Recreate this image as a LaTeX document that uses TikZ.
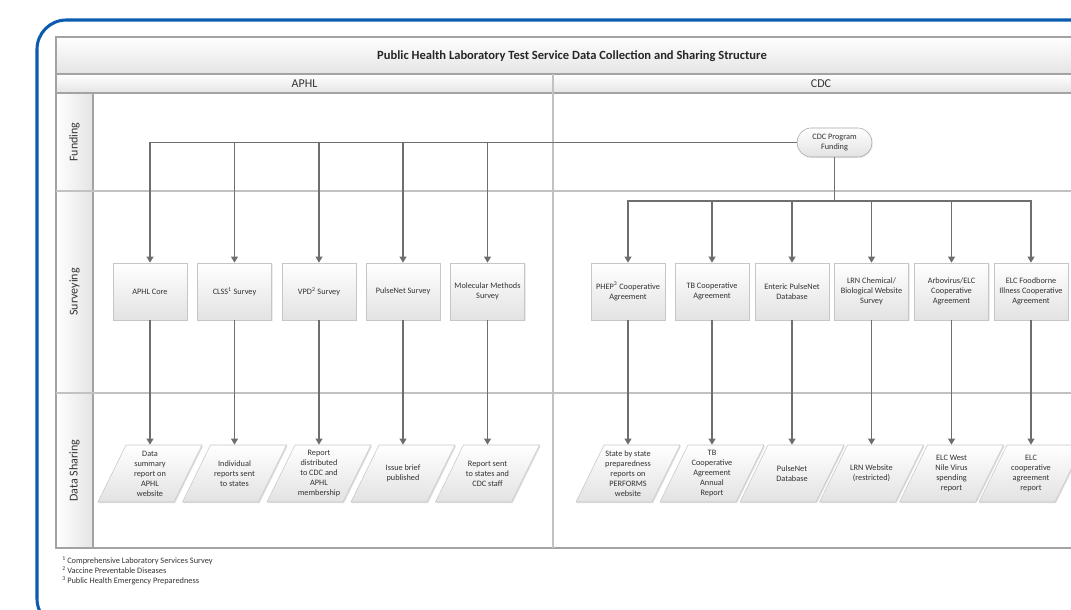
\documentclass[tikz,border=0pt]{standalone}
\usepackage{fontspec}
\setmainfont{Carlito}
\usepackage{tikz}
\usetikzlibrary{shapes.geometric, arrows.meta, positioning, calc, shadows}
\definecolor{framebl}{HTML}{0B5CB0}
\definecolor{gridgray}{HTML}{A3A3A3}
\definecolor{lanegray}{HTML}{C2C2C2}
\definecolor{linkgray}{HTML}{6E6E6E}
\definecolor{boxline}{HTML}{C6C6C6}
\definecolor{boxshade}{HTML}{E2E2E2}
\definecolor{headshade}{HTML}{E4E4E4}
\definecolor{txtgray}{HTML}{333333}

\tikzset{
  hdr/.style={font=\fontsize{9}{11}\selectfont, text=txtgray},
  boxtext/.style={inner sep=1pt, align=center, font=\fontsize{6.2}{7.5}\selectfont, text=txtgray},
  survbox/.style={boxtext, draw=boxline, top color=white, bottom color=boxshade,
    minimum width=55.5pt, minimum height=42.75pt,
    drop shadow={opacity=0.15, shadow xshift=0.8pt, shadow yshift=-0.8pt}},
  sharebox/.style={boxtext, minimum width=57pt, minimum height=42.75pt},
  sharefill/.style={draw=boxline, top color=white, bottom color=boxshade},
  shareshadow/.style={fill=black, opacity=0.13},
  fundbox/.style={boxtext, draw=gridgray, top color=white, bottom color=boxshade,
    rounded corners=10.5pt, minimum width=56pt, minimum height=21.75pt,
    drop shadow={opacity=0.15, shadow xshift=0.8pt, shadow yshift=-0.8pt}},
  link/.style={draw=linkgray, line width=1.3pt},
  arr/.style={link, -{Triangle[length=4.5pt,width=5pt]}},
}

\begin{document}
\begin{tikzpicture}[x=0.75pt, y=-0.75pt]
    \useasboundingbox (0,0) rectangle (1071,610);
    % Blue frame (runs off the page)
    \begin{scope}
      \clip (0,0) rectangle (1071,610);
      \draw[framebl, line width=2.3pt, rounded corners=22pt] (37,20) rectangle (1140,628);
    \end{scope}
    % Header rows and lane column
    \shade[top color=white, bottom color=headshade] (56,37) rectangle (1089,74);
    \shade[top color=white, bottom color=headshade] (56,74) rectangle (1089,93);
    \shade[left color=white, right color=headshade] (56,93) rectangle (93,548);
    % Grid
    \draw[gridgray, line width=0.9pt] (56,37) rectangle (1089,548);
    \draw[gridgray, line width=0.9pt] (56,74) -- (1089,74);
    \draw[gridgray, line width=0.9pt] (56,93) -- (1089,93);
    \draw[gridgray, line width=0.9pt] (93,93) -- (93,548);
    \draw[lanegray, line width=1.1pt] (56,191) -- (1089,191);
    \draw[lanegray, line width=1.1pt] (56,393) -- (1089,393);
    \draw[lanegray, line width=1.1pt] (553,74) -- (553,548);
    % Titles
    \node[font=\fontsize{9.4}{11}\selectfont\bfseries, text=black!85] (title) at (572,56)
      {Public Health Laboratory Test Service Data Collection and Sharing Structure};
    \node[hdr] (aphl) at (304.5,83.5) {APHL};
    \node[hdr] (cdc) at (821,83.5) {CDC};
    \foreach \ly/\lname/\ltext in {142/lfund/Funding, 292/lsurv/Surveying, 470.5/lshare/{Data Sharing}} {
      \node[hdr, rotate=90] (\lname) at (74.5,\ly) {\ltext};
    }
    % Funding
    \node[fundbox] (cdcfund) at (834.5,142.5) {CDC Program\\Funding};
    \coordinate (cdcsplit) at (834.5,201);
    % Surveying
    \foreach \sx/\sname/\stext in {
        150/aphlcore/{APHL Core},
        234.5/clss/{CLSS\textsuperscript{1} Survey},
        319/vpd/{VPD\textsuperscript{2} Survey},
        403/pnsurv/{PulseNet Survey},
        487.5/molmeth/{Molecular Methods\\Survey},
        628/phep/{PHEP\textsuperscript{3} Cooperative\\Agreement},
        712/tbcoop/{TB Cooperative\\Agreement},
        792/enteric/{Enteric PulseNet\\Database},
        871.5/lrnsurv/{LRN Chemical/\\Biological Website\\Survey},
        951.5/arbo/{Arbovirus/ELC\\Cooperative\\Agreement},
        1031/elcfood/{ELC Foodborne\\Illness Cooperative\\Agreement}} {
      \node[survbox] (\sname) at (\sx,291.5) {\stext};
    }
    % Data sharing (slanted boxes)
    \foreach \dx/\dname/\dtext in {
        150/dsummary/{Data\\summary\\report on\\APHL\\website},
        234.5/dindiv/{Individual\\reports sent\\to states},
        319/ddistrib/{Report\\distributed\\to CDC and\\APHL\\membership},
        403/dbrief/{Issue brief\\published},
        487.5/dsent/{Report sent\\to states and\\CDC staff},
        628/dperform/{State by state\\preparedness\\reports on\\PERFORMS\\website},
        712/dtbrep/{TB\\Cooperative\\Agreement\\Annual\\Report},
        792/dpnbase/{PulseNet\\Database},
        871.5/dlrnweb/{LRN Website\\(restricted)},
        951.5/dwnv/{ELC West\\Nile Virus\\spending\\report},
        1031/delcrep/{ELC\\cooperative\\agreement\\report}} {
      \fill[shareshadow] (\dx-51,503.2) -- (\dx-23,446.2) -- (\dx+53,446.2) -- (\dx+25,503.2) -- cycle;
      \shade[sharefill] (\dx-52,502) -- (\dx-24,445) -- (\dx+52,445) -- (\dx+24,502) -- cycle;
      \node[sharebox] (\dname) at (\dx,473.5) {\dtext};
    }
    % Connectors
    \foreach \sname in {aphlcore,clss,vpd,pnsurv,molmeth} {
      \draw[arr] (cdcfund.west) -| (\sname.north);
    }
    \draw[link] (cdcfund.south) -- (cdcsplit);
    \foreach \sname in {phep,tbcoop,enteric,lrnsurv,arbo,elcfood} {
      \draw[arr] (cdcsplit) -| (\sname.north);
    }
    \foreach \sname/\dname in {aphlcore/dsummary, clss/dindiv, vpd/ddistrib, pnsurv/dbrief,
        molmeth/dsent, phep/dperform, tbcoop/dtbrep, enteric/dpnbase, lrnsurv/dlrnweb,
        arbo/dwnv, elcfood/delcrep} {
      \draw[arr] (\sname.south) -- (\sname.south |- \dname.north);
    }
    % Footnotes
    \node[anchor=north west, align=left, inner sep=0pt, font=\fontsize{6.25}{7.5}\selectfont, text=txtgray] (notes) at (62,556)
      {\textsuperscript{1}\,Comprehensive Laboratory Services Survey\\
       \textsuperscript{2}\,Vaccine Preventable Diseases\\
       \textsuperscript{3}\,Public Health Emergency Preparedness};
\end{tikzpicture}
\end{document}
